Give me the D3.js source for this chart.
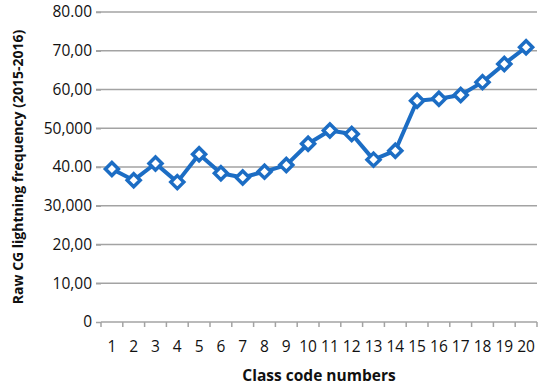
<!DOCTYPE html>
<html>
<head>
<meta charset="utf-8">
<script src="https://cdn.jsdelivr.net/npm/d3@7"></script>
<style>
  body { margin: 0; background: #fff; }
  text { font-family: "Open Sans", sans-serif; }
</style>
</head>
<body>
<script>
var classCodes = [1, 2, 3, 4, 5, 6, 7, 8, 9, 10, 11, 12, 13, 14, 15, 16, 17, 18, 19, 20];
var frequency = [39.5, 36.6, 40.9, 36.1, 43.3, 38.4, 37.3, 38.8, 40.5, 46.0,
                 49.4, 48.5, 41.9, 44.2, 57.1, 57.6, 58.6, 61.9, 66.6, 70.9];
var yTickValues = [0, 10, 20, 30, 40, 50, 60, 70, 80];
var yTickLabels = ["0", "10,00", "20,00", "30,000", "40.00", "50,000", "60,00", "70,00", "80.00"];

var w = 550, h = 390;
var plotLeft = 101, plotRight = 537, plotTop = 12, plotBottom = 322;
var blue = "#1c6dc4";

var svg = d3.select("body").append("svg")
    .attr("width", w)
    .attr("height", h);

var xScale = d3.scaleBand()
    .domain(classCodes)
    .range([plotLeft, plotRight]);

var yScale = d3.scaleLinear()
    .domain([0, 80])
    .range([plotBottom, plotTop]);

// gridlines
svg.append("g")
    .selectAll("line")
    .data(yTickValues.slice(1))
    .enter()
    .append("line")
    .attr("x1", plotLeft - 5)
    .attr("x2", plotRight)
    .attr("y1", function (d) { return yScale(d); })
    .attr("y2", function (d) { return yScale(d); })
    .attr("stroke", "#a3a3a3")
    .attr("stroke-width", 1.5);

// y axis labels
var yAxis = d3.axisLeft(yScale)
    .tickValues(yTickValues)
    .tickFormat(function (d, i) { return yTickLabels[i]; })
    .tickSize(5)
    .tickPadding(4);

var gy = svg.append("g")
    .attr("transform", "translate(" + plotLeft + ",0)")
    .call(yAxis);
gy.select(".domain").remove();
gy.selectAll("line").attr("stroke", "#a3a3a3").attr("stroke-width", 1.5);
gy.selectAll("text").attr("font-size", "15.5px").attr("fill", "#111")
    .attr("font-family", "'Open Sans', sans-serif");

// x axis
var xAxis = d3.axisBottom(xScale).tickSize(0).tickPadding(19);
var gx = svg.append("g")
    .attr("transform", "translate(0," + plotBottom + ")")
    .call(xAxis);
gx.select(".domain").attr("stroke", "#a3a3a3").attr("stroke-width", 1.5)
    .attr("d", "M" + plotLeft + ",0H" + plotRight);
gx.selectAll("text").attr("font-size", "15.5px").attr("fill", "#111")
    .attr("font-family", "'Open Sans', sans-serif");

// x ticks at band boundaries
var bounds = classCodes.map(function (d) { return xScale(d); }).concat([plotRight]);
svg.append("g")
    .selectAll("line")
    .data(bounds)
    .enter()
    .append("line")
    .attr("x1", function (d) { return d; })
    .attr("x2", function (d) { return d; })
    .attr("y1", plotBottom)
    .attr("y2", plotBottom + 5)
    .attr("stroke", "#a3a3a3")
    .attr("stroke-width", 1.5);

// line
var cx = function (d, i) { return xScale(classCodes[i]) + xScale.bandwidth() / 2; };
svg.append("path")
    .datum(frequency)
    .attr("fill", "none")
    .attr("stroke", blue)
    .attr("stroke-width", 4)
    .attr("stroke-linejoin", "round")
    .attr("d", d3.line()
        .x(cx)
        .y(function (d) { return yScale(d); }));

// diamond markers
svg.selectAll(".marker")
    .data(frequency)
    .enter()
    .append("path")
    .attr("class", "marker")
    .attr("transform", function (d, i) {
        return "translate(" + cx(d, i) + "," + yScale(d) + ")";
    })
    .attr("d", "M0,-6.5L6.5,0L0,6.5L-6.5,0Z")
    .attr("fill", "#fff")
    .attr("stroke", blue)
    .attr("stroke-width", 3.5);

// axis titles
svg.append("text")
    .attr("x", (plotLeft + plotRight) / 2)
    .attr("y", 381)
    .attr("text-anchor", "middle")
    .attr("font-size", "15.5px")
    .attr("font-weight", "bold")
    .attr("fill", "#111")
    .text("Class code numbers");

svg.append("text")
    .attr("transform", "translate(23," + 167 + ") rotate(-90)")
    .attr("text-anchor", "middle")
    .attr("font-size", "14px")
    .attr("font-weight", "bold")
    .attr("fill", "#111")
    .text("Raw CG lightning frequency (2015-2016)");
</script>
</body>
</html>
